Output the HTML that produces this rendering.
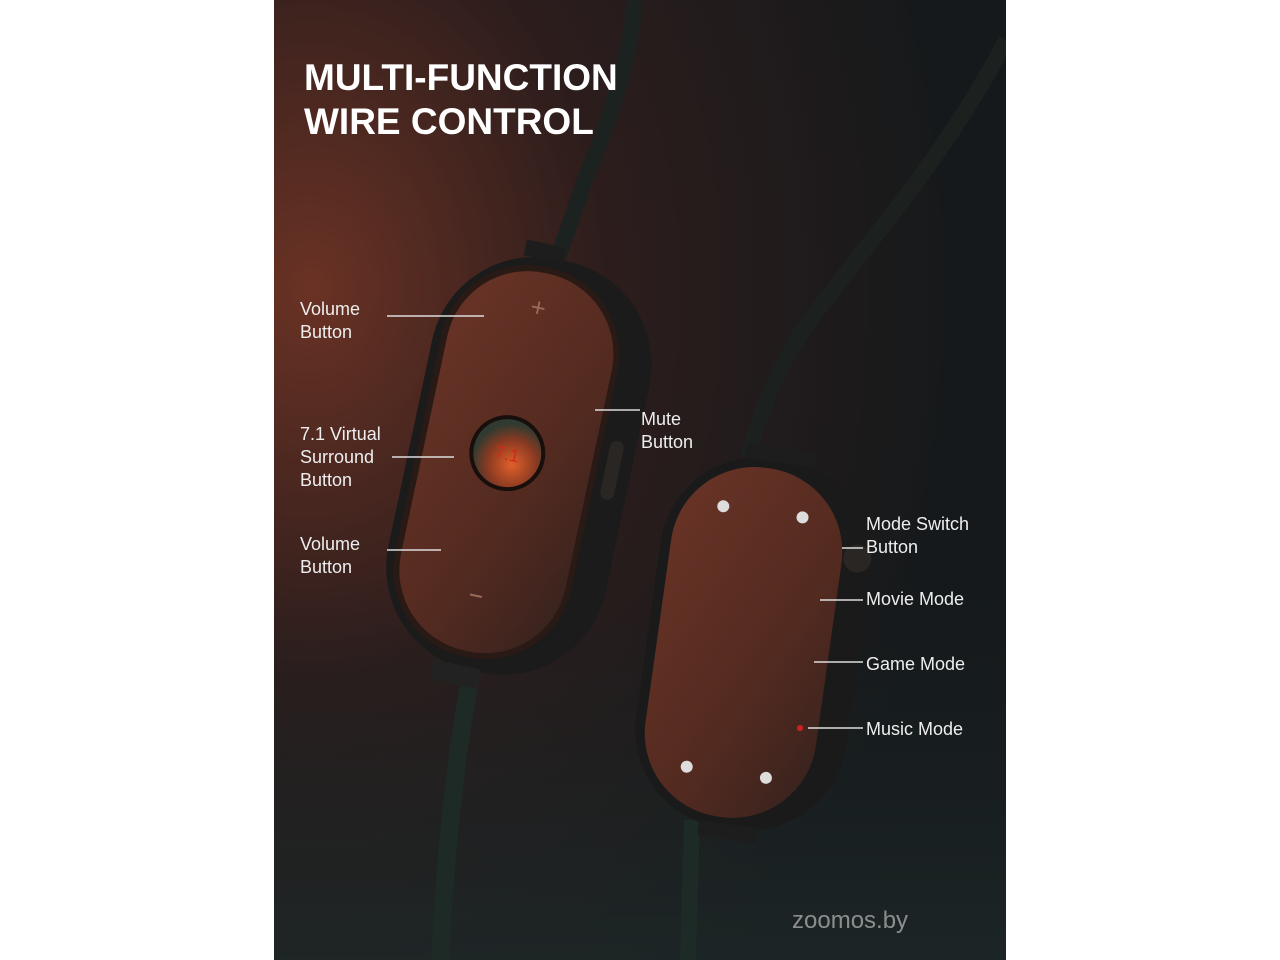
<!DOCTYPE html>
<html><head><meta charset="utf-8"><style>
html,body{margin:0;padding:0;background:#fff;}
body{width:1280px;height:960px;position:relative;overflow:hidden;font-family:"Liberation Sans",sans-serif;}
svg{position:absolute;left:0;top:0;}
</style></head><body>
<svg width="1280" height="960" viewBox="0 0 1280 960">
<defs>
<clipPath id="panel"><rect x="274" y="0" width="732" height="960"/></clipPath>
<radialGradient id="bg" cx="0.05" cy="0.3" r="0.9">
<stop offset="0" stop-color="#6a3224"/>
<stop offset="0.45" stop-color="#2c1d1c"/>
<stop offset="1" stop-color="#15191b"/>
</radialGradient>
<linearGradient id="bg2" x1="0" y1="0" x2="0" y2="1">
<stop offset="0.6" stop-color="#1a2224" stop-opacity="0"/>
<stop offset="1" stop-color="#1f2a2a" stop-opacity="0.7"/>
</linearGradient>
<linearGradient id="face" x1="0" y1="0" x2="1" y2="1">
<stop offset="0" stop-color="#6a3426"/>
<stop offset="0.6" stop-color="#532a20"/>
<stop offset="1" stop-color="#35221e"/>
</linearGradient>
<radialGradient id="btn" cx="0.6" cy="0.65" r="0.6">
<stop offset="0" stop-color="#e0602a"/>
<stop offset="0.6" stop-color="#8a3a22"/>
<stop offset="1" stop-color="#2f3a30"/>
</radialGradient>
</defs>
<g clip-path="url(#panel)">
<rect x="274" y="0" width="732" height="960" fill="url(#bg)"/>
<rect x="274" y="0" width="732" height="960" fill="url(#bg2)"/>
<path d="M635 0 C630 60,610 120,585 180 L558 258" stroke="#1c2220" stroke-width="16" fill="none"/>
<path d="M470 680 C455 760,445 860,440 960" stroke="#1d2a26" stroke-width="18" fill="none"/>
<path d="M1006 40 C950 150,870 240,810 320 C775 370,758 420,748 458" stroke="#1c2120" stroke-width="16" fill="none"/>
<path d="M692 820 L688 960" stroke="#1d2a26" stroke-width="16" fill="none"/>
</g>
<g transform="rotate(12 515 465)">
<rect x="408" y="255" width="222" height="420" rx="105" fill="#1b1b1b"/>
<rect x="416" y="265" width="180" height="398" rx="88" fill="#2a1a16"/>
<rect x="422" y="271" width="168" height="386" rx="82" fill="url(#face)"/>
<circle cx="505" cy="455" r="38" fill="#180f0d"/>
<circle cx="505" cy="455" r="34" fill="url(#btn)"/>
<text x="505" y="462" font-size="18" fill="#d02a1a" text-anchor="middle">7.1</text>
<text x="505" y="315" font-size="26" fill="#9a6a58" text-anchor="middle">+</text>
<rect x="498" y="600" width="12" height="2" fill="#9a6a58"/>
<rect x="604" y="420" width="14" height="60" rx="7" fill="#2a2624"/>
<rect x="480" y="242" width="40" height="16" fill="#1d1d1d"/>
<rect x="476" y="672" width="48" height="20" fill="#222"/>
</g>
<g transform="rotate(8 755 640)">
<rect x="648" y="458" width="212" height="372" rx="98" fill="#1a1a1a"/>
<rect x="658" y="468" width="172" height="352" rx="84" fill="url(#face)"/>
<circle cx="705" cy="512" r="6" fill="#ddd"/><circle cx="785" cy="512" r="6" fill="#ddd"/>
<circle cx="705" cy="775" r="6" fill="#ddd"/><circle cx="785" cy="775" r="6" fill="#ddd"/>
<circle cx="845" cy="545" r="14" fill="#2a2624"/>
<rect x="720" y="446" width="70" height="15" fill="#1d1d1d"/>
<rect x="725" y="826" width="60" height="15" fill="#1d1d1d"/>
</g>
<circle cx="800" cy="728" r="3" fill="#d02020"/>
<text x="304" y="90" font-size="37" font-weight="bold" fill="#fff">MULTI-FUNCTION</text>
<text x="304" y="134" font-size="37" font-weight="bold" fill="#fff">WIRE CONTROL</text>
<g font-size="18" fill="#eee">
<text x="300" y="315">Volume</text><text x="300" y="338">Button</text>
<text x="300" y="440">7.1 Virtual</text><text x="300" y="463">Surround</text><text x="300" y="486">Button</text>
<text x="300" y="550">Volume</text><text x="300" y="573">Button</text>
<text x="641" y="425">Mute</text><text x="641" y="448">Button</text>
<text x="866" y="530">Mode Switch</text><text x="866" y="553">Button</text>
<text x="866" y="605">Movie Mode</text>
<text x="866" y="670">Game Mode</text>
<text x="866" y="735">Music Mode</text>
</g>
<g stroke="#ddd" stroke-width="1.5">
<line x1="387" y1="316" x2="484" y2="316"/>
<line x1="392" y1="457" x2="454" y2="457"/>
<line x1="387" y1="550" x2="441" y2="550"/>
<line x1="595" y1="410" x2="640" y2="410"/>
<line x1="842" y1="548" x2="863" y2="548"/>
<line x1="820" y1="600" x2="863" y2="600"/>
<line x1="814" y1="662" x2="863" y2="662"/>
<line x1="808" y1="728" x2="863" y2="728"/>
</g>
<text x="792" y="928" font-size="24" fill="#bbb" opacity="0.7">zoomos.by</text>
</svg>
</body></html>
